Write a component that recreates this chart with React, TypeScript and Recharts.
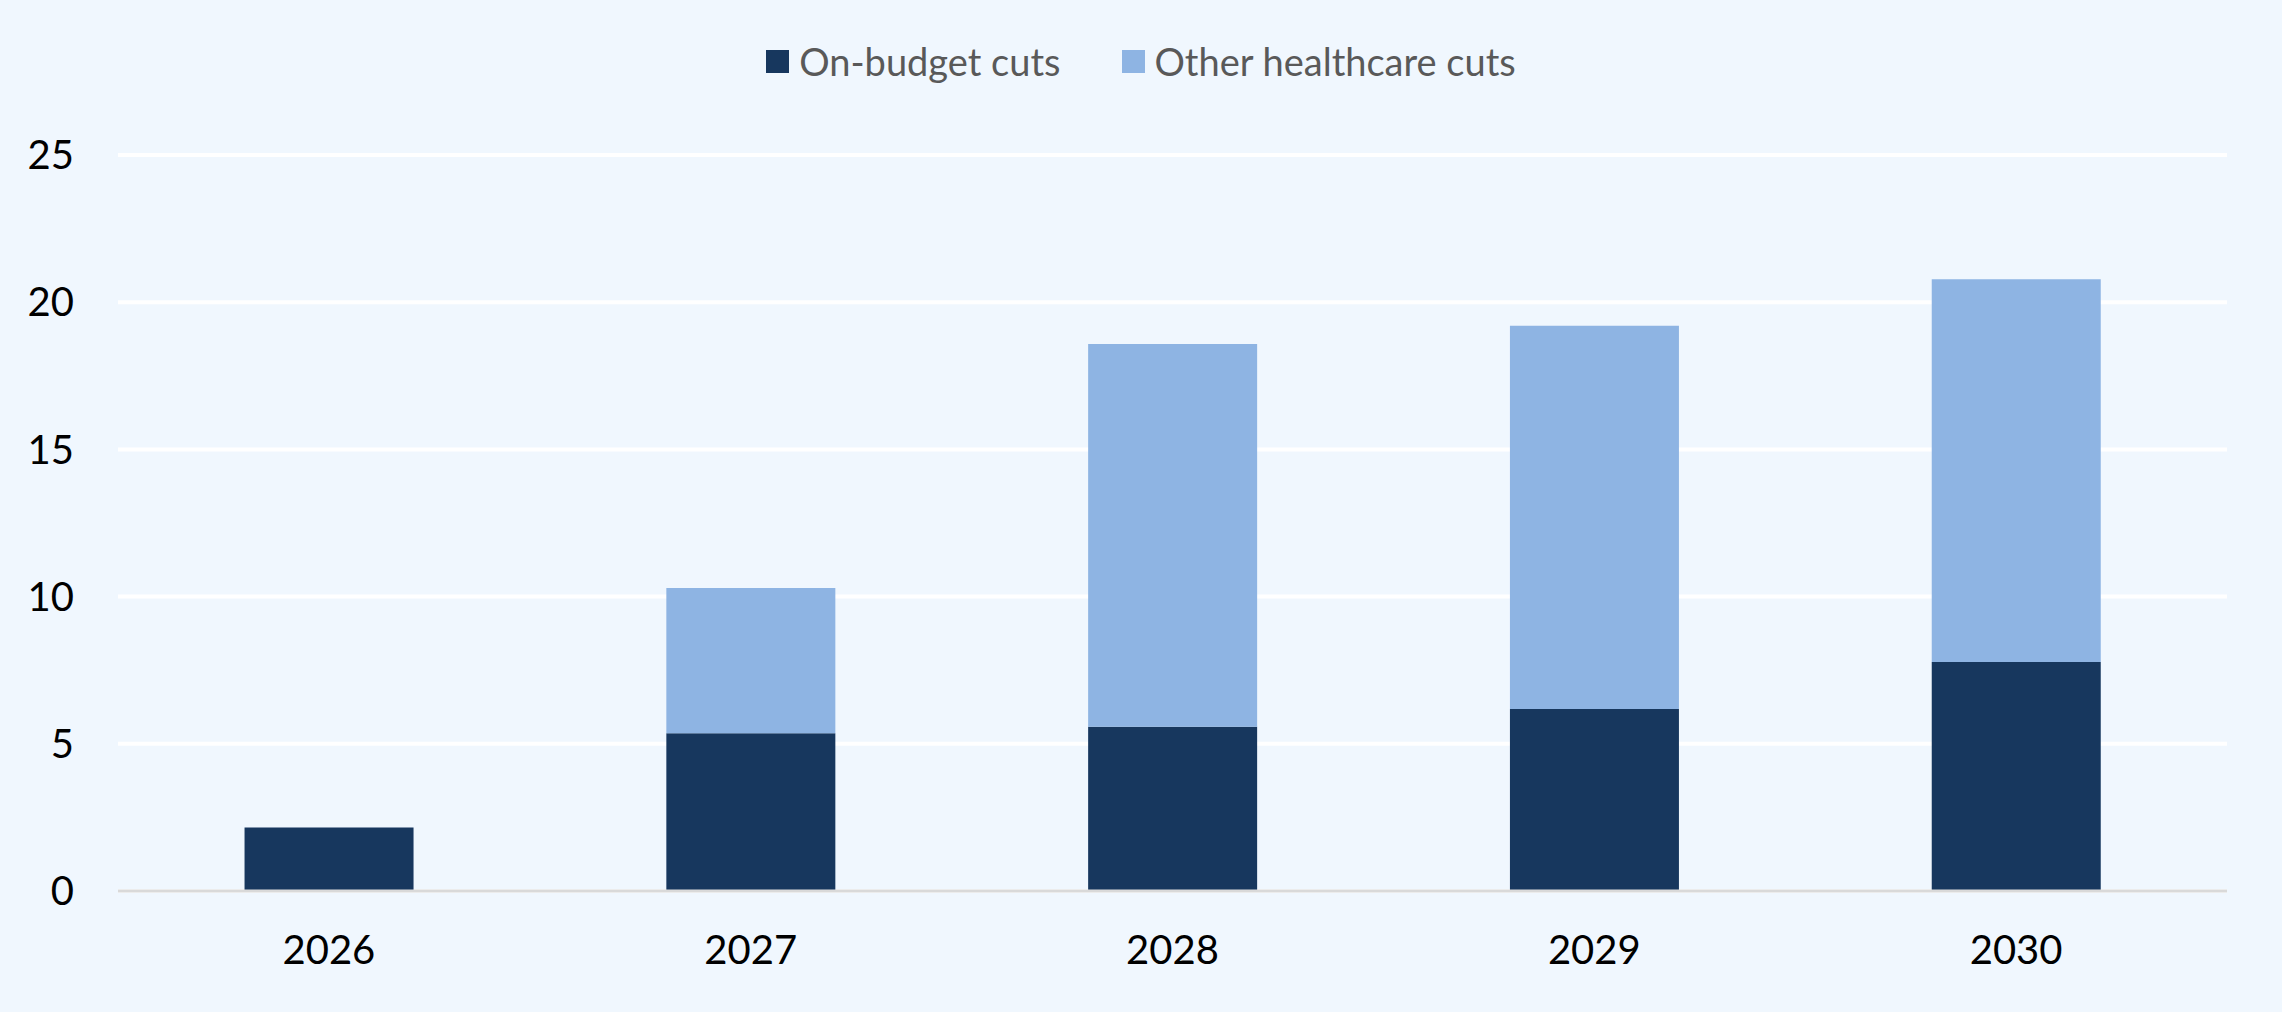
import { BarChart, Bar, XAxis, YAxis, CartesianGrid, Legend } from "recharts";

const years = ["2026", "2027", "2028", "2029", "2030"];
const onBudgetCuts = [2.16, 5.36, 5.58, 6.18, 7.78];
const otherHealthcareCuts = [0, 4.93, 13.0, 13.02, 13.0];
const yTicks = [0, 5, 10, 15, 20, 25];

const series = [
  { key: "onBudget", name: "On-budget cuts", color: "#17375E" },
  { key: "other", name: "Other healthcare cuts", color: "#8EB4E3" },
];

const data = years.map((year, i) => ({
  year,
  onBudget: onBudgetCuts[i],
  other: otherHealthcareCuts[i],
}));

const bg = "#F0F7FE";
const font = "Lato, 'Open Sans', sans-serif";

function LegendContent() {
  return (
    <div style={{ display: "flex", justifyContent: "center", alignItems: "center", gap: 61, fontFamily: font }}>
      {series.map((s) => (
        <div key={s.key} style={{ display: "flex", alignItems: "center", gap: 10 }}>
          <span style={{ width: 23, height: 23, background: s.color, display: "inline-block" }} />
          <span style={{ fontSize: 38, color: "#595959", lineHeight: "40px" }}>{s.name}</span>
        </div>
      ))}
    </div>
  );
}

export default function App() {
  return (
    <div style={{ width: 2282, height: 1012, background: bg, overflow: "hidden" }}>
      <style>{`body{margin:0;background:${bg};overflow:hidden}`}</style>
      <BarChart
        width={2282}
        height={1012}
        data={data}
        margin={{ top: 155, right: 55, bottom: 61, left: 38 }}
        barCategoryGap="30%"
      >
        <CartesianGrid vertical={false} stroke="#FFFFFF" strokeWidth={4} />
        <XAxis
          dataKey="year"
          height={60}
          tickSize={0}
          tickMargin={45}
          tickLine={false}
          axisLine={{ stroke: "#D9D9D9", strokeWidth: 3 }}
          tick={{ fontSize: 40, fill: "#000", fontFamily: font }}
        />
        <YAxis
          width={80}
          domain={[0, 25]}
          ticks={yTicks}
          tickSize={0}
          tickMargin={44}
          tickLine={false}
          axisLine={false}
          tick={{ fontSize: 40, fill: "#000", fontFamily: font }}
        />
        <Legend
          verticalAlign="middle"
          align="center"
          wrapperStyle={{ top: 41, left: 0, width: 2282 }}
          content={LegendContent}
        />
        {series.map((s) => (
          <Bar key={s.key} dataKey={s.key} name={s.name} stackId="a" fill={s.color} isAnimationActive={false} />
        ))}
      </BarChart>
    </div>
  );
}
